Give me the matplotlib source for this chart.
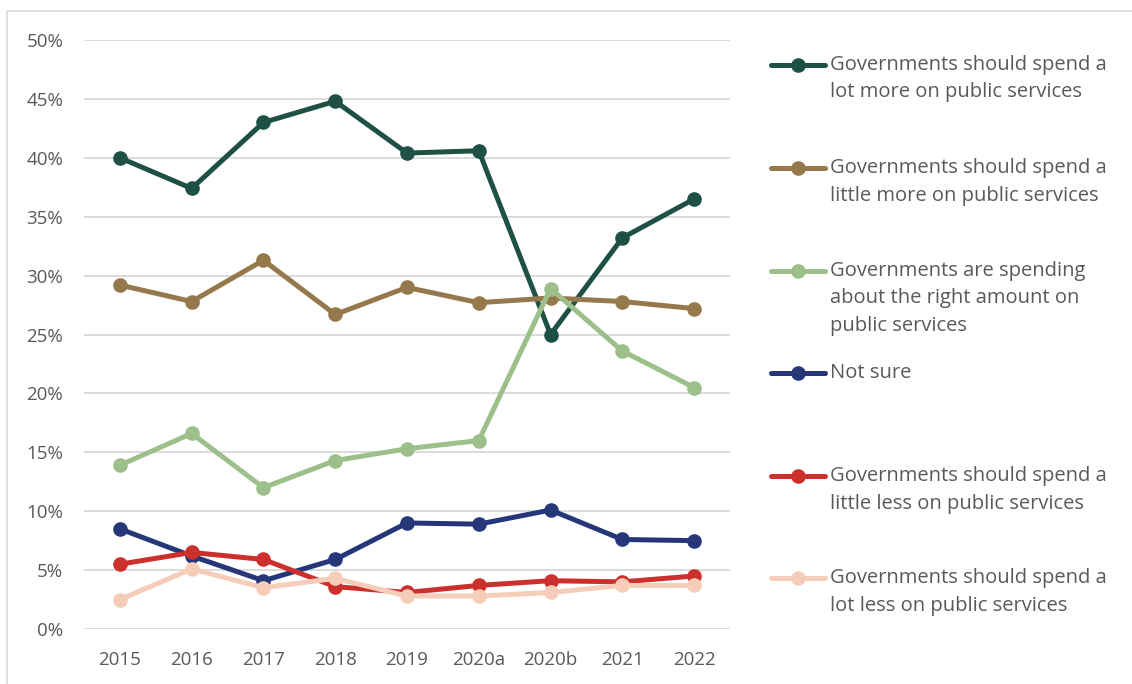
import matplotlib.pyplot as plt
from matplotlib.lines import Line2D
from matplotlib.patches import Rectangle
from matplotlib.ticker import PercentFormatter

plt.rcParams['font.family'] = ['Open Sans', 'DejaVu Sans']

years = ['2015', '2016', '2017', '2018', '2019', '2020a', '2020b', '2021', '2022']

lot_more = [40.0, 37.4, 43.0, 44.8, 40.4, 40.6, 25.0, 33.2, 36.5]
little_more = [29.2, 27.8, 31.3, 26.7, 29.0, 27.7, 28.1, 27.8, 27.2]
right_amount = [13.9, 16.6, 12.0, 14.3, 15.3, 16.0, 28.9, 23.6, 20.5]
not_sure = [8.5, 6.2, 4.1, 5.9, 9.0, 8.9, 10.1, 7.6, 7.5]
little_less = [5.5, 6.5, 5.9, 3.6, 3.1, 3.7, 4.1, 4.0, 4.5]
lot_less = [2.5, 5.1, 3.5, 4.3, 2.8, 2.8, 3.1, 3.7, 3.7]

labels = [
    'Governments should spend a\nlot more on public services',
    'Governments should spend a\nlittle more on public services',
    'Governments are spending\nabout the right amount on\npublic services',
    'Not sure',
    'Governments should spend a\nlittle less on public services',
    'Governments should spend a\nlot less on public services',
]
colours = ['#1e5045', '#95784b', '#9dc08b', '#253779', '#cc302c', '#f6cdb9']

series = [lot_more, little_more, right_amount, not_sure, little_less, lot_less]

W, H = 1132, 684
fig = plt.figure(figsize=(W / 100, H / 100), dpi=100)
ax = fig.add_axes([84 / W, 1 - 629 / H, (730 - 84) / W, (629 - 40) / H])

x = list(range(len(years)))
for vals, col in zip(series, colours):
    ax.plot(x, vals, color=col, lw=3.6, marker='o', ms=9.5, zorder=3,
            solid_capstyle='round')

ax.set_xlim(-0.5, len(years) - 0.5)
ax.set_ylim(0, 50)
ax.set_yticks(range(0, 51, 5))
ax.yaxis.set_major_formatter(PercentFormatter(decimals=0))
ax.set_xticks(x)
ax.set_xticklabels(years)
ax.grid(axis='y', color='#d9d9d9', lw=1.3, zorder=0)
for s in ax.spines.values():
    s.set_visible(False)
ax.tick_params(length=0, labelsize=13.5, colors='#595959')
ax.tick_params(axis='x', pad=16)
ax.tick_params(axis='y', pad=15)

# legend drawn by hand so the uneven spacing can be kept
legend_y = [65, 168, 271, 373, 476, 578]
for lab, col, ly in zip(labels, colours, legend_y):
    yy = 1 - ly / H
    fig.add_artist(Line2D([771 / W, 825 / W], [yy, yy], color=col, lw=3.6,
                          solid_capstyle='round', transform=fig.transFigure))
    fig.add_artist(Line2D([798 / W], [yy], color=col, marker='o', ms=9.5,
                          transform=fig.transFigure))
    fig.text(830 / W, yy + 10 / H, lab, ha='left', va='top', fontsize=14.5,
             color='#595959', linespacing=1.5)

fig.add_artist(Rectangle((7 / W, -0.1), 1.2, 1 - 11 / H + 0.1, fill=False,
                         edgecolor='#d9d9d9', lw=1.2, transform=fig.transFigure))

fig.savefig('out.png', dpi=100)
